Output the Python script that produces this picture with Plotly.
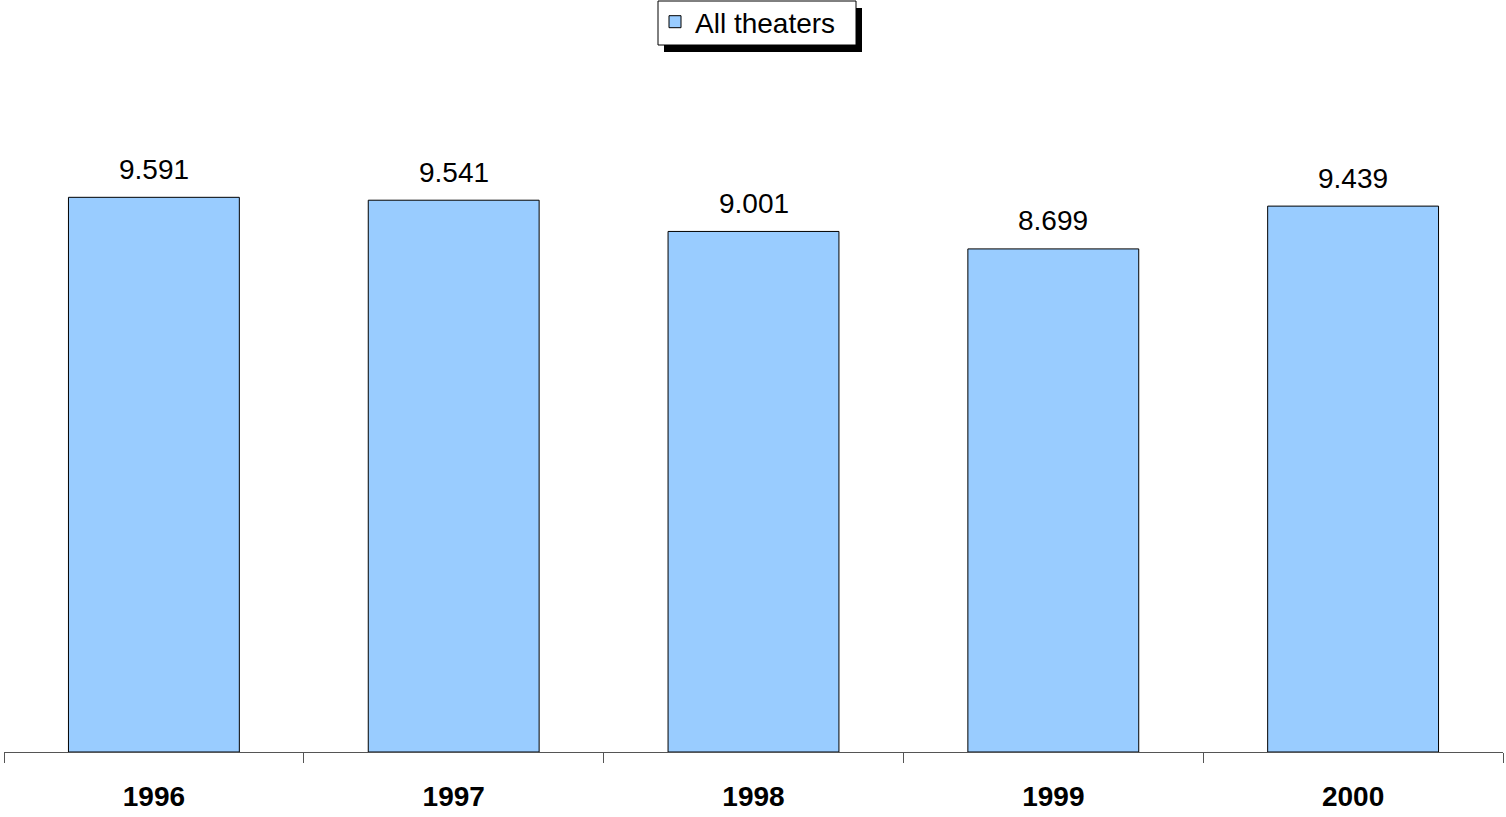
import plotly.graph_objects as go

years = ["1996", "1997", "1998", "1999", "2000"]
values = [9.591, 9.541, 9.001, 8.699, 9.439]
value_labels = ["9.591", "9.541", "9.001", "8.699", "9.439"]
series_name = "All theaters"

W, H = 1506, 817
ML, MR, MT, MB = 4, 3, 58, 65
pw, ph = W - ML - MR, H - MT - MB

def px_x(p):
    return (p - ML) / pw

def px_y(p):
    return (H - MB - p) / ph

FONT = "Arial, Liberation Sans, sans-serif"

fig = go.Figure()
fig.add_trace(go.Bar(
    x=years, y=values, name=series_name,
    marker=dict(color="#99CCFF", line=dict(color="#000000", width=1)),
    showlegend=True,
))

for i, (v, lab) in enumerate(zip(values, value_labels)):
    fig.add_annotation(x=i, y=v, text=lab, showarrow=False,
                       xref="x", yref="y",
                       yanchor="middle", yshift=28,
                       font=dict(family=FONT, size=28, color="#000000"))

# legend shadow and box
fig.add_shape(type="rect", xref="paper", yref="paper",
              x0=px_x(664), x1=px_x(862), y0=px_y(52), y1=px_y(8),
              fillcolor="#000000", line=dict(width=0), layer="above")
fig.add_shape(type="rect", xref="paper", yref="paper",
              x0=px_x(658), x1=px_x(856), y0=px_y(45), y1=px_y(1),
              fillcolor="#FFFFFF", line=dict(color="#000000", width=1), layer="above")

fig.update_layout(
    width=W, height=H,
    margin=dict(l=ML, r=MR, t=MT, b=MB),
    paper_bgcolor="white", plot_bgcolor="white",
    bargap=0.43,
    font=dict(family=FONT, size=28, color="#000000"),
    legend=dict(orientation="h", x=0.5 - 5 / W, xanchor="center", y=1 - 22 / H, yanchor="middle",
                xref="container", yref="container",
                bgcolor="rgba(0,0,0,0)", borderwidth=0,
                font=dict(family=FONT, size=28, color="#000000")),
    xaxis=dict(type="category", range=[-0.5, 4.5], showline=True, linecolor="#555555", linewidth=1,
               ticks="outside", tickson="boundaries", ticklen=10, tickcolor="#555555",
               tickangle=0, ticklabelstandoff=19,
               showgrid=False, tickfont=dict(family=FONT, size=28, color="#000000", weight="bold")),
    yaxis=dict(range=[0, 12], visible=False, showgrid=False, zeroline=False),
)

fig.write_html("out.html")
